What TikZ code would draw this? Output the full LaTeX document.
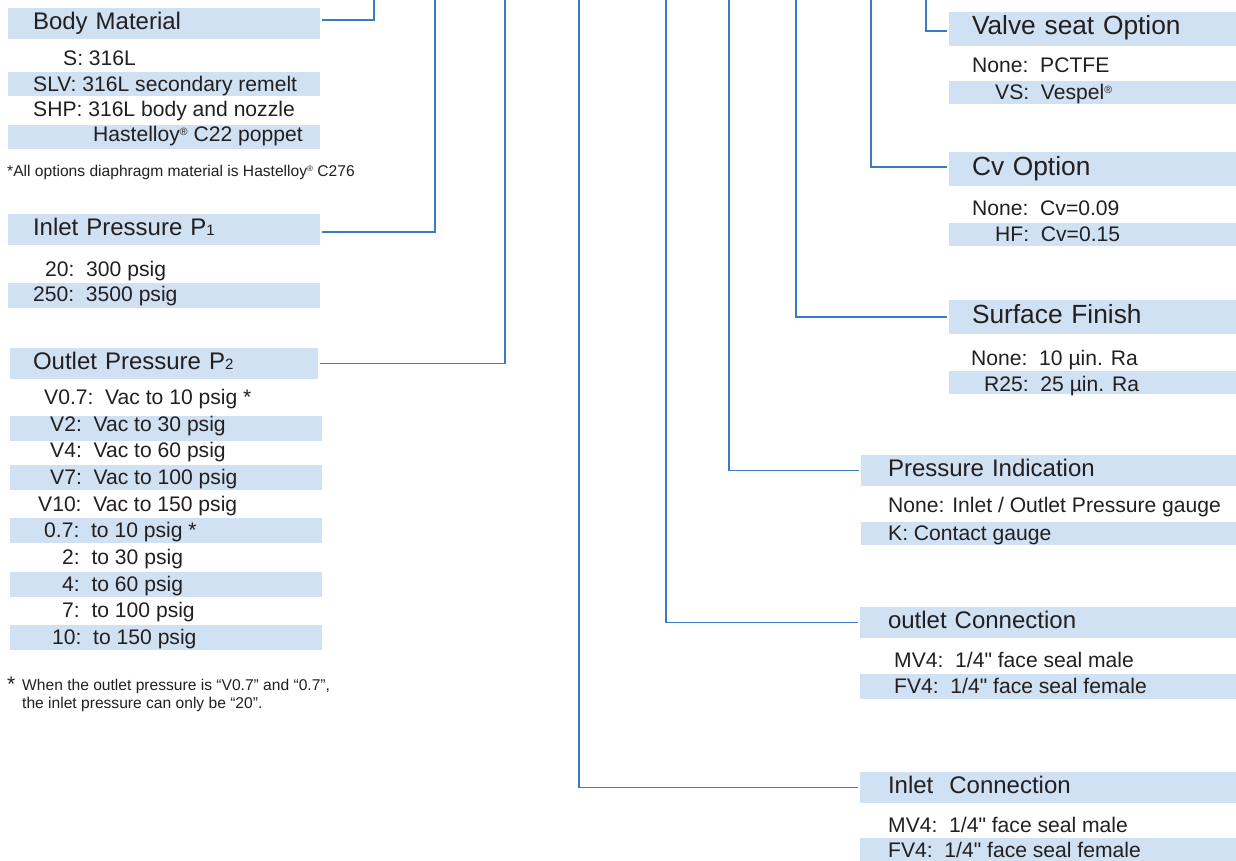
\documentclass[tikz,border=0pt]{standalone}
\usepackage{fontspec}
\setmainfont{Liberation Sans}[Ligatures=TeXOff]
\usepackage{tikz}

\definecolor{bandblue}{HTML}{CFE1F2}
\definecolor{linkblue}{HTML}{3A7CC4}
\definecolor{ink}{HTML}{231F20}
\newcommand\headfont{\fontsize{24}{28}\selectfont}
\newcommand\bigheadfont{\fontsize{26.3}{30}\selectfont}
\newcommand\optfont{\fontsize{21.1}{25}\selectfont}
\newcommand\notefont{\fontsize{15.6}{18}\selectfont}
\newcommand\subfig[1]{{\fontsize{15}{15}\selectfont #1}}
\newcommand\regmark{\raisebox{6.5pt}{\fontsize{10.5}{10.5}\selectfont ®}}
\newcommand\smallregmark{\raisebox{5pt}{\fontsize{8}{8}\selectfont ®}}

\begin{document}
\begin{tikzpicture}[x=1pt, y=-1pt, text=ink,
		head/.style 2 args={fill=bandblue, anchor=west, align=left, inner ysep=0pt,
			minimum height=31pt, text width=#1, inner xsep=#2, outer xsep=2pt,
			text height=17pt, text depth=5.5pt, font=\headfont},
		bighead/.style 2 args={head={#1}{#2}, minimum height=34pt,
			text height=18.5pt, text depth=6.5pt, font=\bigheadfont},
		opt/.style={anchor=base west, inner sep=0pt, font=\optfont},
		note/.style={anchor=base west, inner sep=0pt, font=\notefont},
		band/.style={fill=bandblue},
		link/.style={draw=linkblue, line width=1.3pt}]
					\useasboundingbox (0,0) rectangle (1236,861);
					% option bands
					\fill[band] (8,72) rectangle (320,96);
					\fill[band] (8,125) rectangle (320,149);
					\fill[band] (8,283) rectangle (320,308);
					\foreach \y in {416,465,518,572,625}
						\fill[band] (10,\y) rectangle (322,\y+24.5);
					\fill[band] (949,81) rectangle (1236,104);
					\fill[band] (949,223) rectangle (1236,246);
					\fill[band] (949,371) rectangle (1236,394);
					\fill[band] (861,522) rectangle (1236,545);
					\fill[band] (860,674) rectangle (1236,699);
					\fill[band] (860,838) rectangle (1236,861);

					% left column
					\node (body) at (6,23.5)    [head={262pt}{25pt}] {Body Material};
					\node (s1) at (63,66)       [opt] {S: 316L};
					\node (s2) at (33,91.3)     [opt] {SLV: 316L secondary remelt};
					\node (s3) at (33,116.7)    [opt] {SHP: 316L body and nozzle};
					\node (s4) at (93,141.7)    [opt] {Hastelloy\regmark\ C22 poppet};
					\node (bnote) at (7,176.7)  [note] {*All options diaphragm material is Hastelloy\smallregmark\ C276};

					\node (inlet) at (6,229.5)  [head={262pt}{25pt}] {Inlet Pressure P\subfig{1}};
					\node (i1) at (45,276)      [opt] {20:\ \ 300 psig};
					\node (i2) at (33,301.7)    [opt] {250:\ \ 3500 psig};

					\node (outlet) at (8,363.5) [head={262pt}{23pt}] {Outlet Pressure P\subfig{2}};
					\node (o1) at (44,404)      [opt] {V0.7:\ \ Vac to 10 psig *};
					\node (o2) at (50,431)      [opt] {V2:\ \ Vac to 30 psig};
					\node (o3) at (50,457)      [opt] {V4:\ \ Vac to 60 psig};
					\node (o4) at (50,484)      [opt] {V7:\ \ Vac to 100 psig};
					\node (o5) at (38,511)      [opt] {V10:\ \ Vac to 150 psig};
					\node (o6) at (44,537)      [opt] {0.7:\ \ to 10 psig *};
					\node (o7) at (62,564)      [opt] {2:\ \ to 30 psig};
					\node (o8) at (62,591)      [opt] {4:\ \ to 60 psig};
					\node (o9) at (62,617)      [opt] {7:\ \ to 100 psig};
					\node (o10) at (52,644)     [opt] {10:\ \ to 150 psig};
					\node (star) at (7,691)     [opt] {*};
					\node (onote1) at (22,690)  [note] {When the outlet pressure is “V0.7” and “0.7”,};
					\node (onote2) at (22,708)  [note] {the inlet pressure can only be “20”.};

					% right column
					\node (valve) at (947,29)   [bighead={241pt}{23pt}] {Valve seat Option};
					\node (v1) at (972,72.7)    [opt] {None:\ \ PCTFE};
					\node (v2) at (995,100)     [opt] {VS:\ \ Vespel\regmark};

					\node (cv) at (947,169.5)   [bighead={241pt}{23pt}] {Cv Option};
					\node (c1) at (972,215)     [opt] {None:\ \ Cv=0.09};
					\node (c2) at (995,241.7)   [opt] {HF:\ \ Cv=0.15};

					\node (surf) at (947,317)   [bighead={241pt}{23pt}] {Surface Finish};
					\node (f1) at (971,365)     [opt] {None:\ \ 10 µin. Ra};
					\node (f2) at (984,391)     [opt] {R25:\ \ 25 µin. Ra};

					\node (pind) at (859,470.5) [head={321pt}{27pt}] {Pressure Indication};
					\node (p1) at (888,512)     [opt] {None: Inlet / Outlet Pressure gauge};
					\node (p2) at (888,540)     [opt] {K: Contact gauge};

					\node (outc) at (858,622.5) [head={320pt}{28pt}] {outlet Connection};
					\node (u1) at (894,667)     [opt] {MV4:\ \ 1/4" face seal male};
					\node (u2) at (894,693)     [opt] {FV4:\ \ 1/4" face seal female};

					\node (inc) at (858,787.5)  [head={320pt}{28pt}] {Inlet\ \ Connection};
					\node (n1) at (888,832)     [opt] {MV4:\ \ 1/4" face seal male};
					\node (n2) at (888,857)     [opt] {FV4:\ \ 1/4" face seal female};

					% Draw the leader lines up to the code
					\coordinate (tbody) at (374,0);
					\coordinate (tinlet) at (435,0);
					\coordinate (toutlet) at (505,0);
					\coordinate (tinc) at (579,0);
					\coordinate (toutc) at (666,0);
					\coordinate (tpind) at (729,0);
					\coordinate (tsurf) at (796,0);
					\coordinate (tcv) at (871,0);
					\coordinate (tvalve) at (926,0);
					\draw[link] ([yshift=3.5pt]body.east) -| (tbody);
					\draw[link] ([yshift=-2.5pt]inlet.east) -| (tinlet);
					\draw[link] (outlet.east) -| (toutlet);
					\draw[link] (inc.west) -| (tinc);
					\draw[link] (outc.west) -| (toutc);
					\draw[link] (pind.west) -| (tpind);
					\draw[link] (surf.west) -| (tsurf);
					\draw[link] ([yshift=2.5pt]cv.west) -| (tcv);
					\draw[link] ([yshift=-2pt]valve.west) -| (tvalve);
			\end{tikzpicture}
\end{document}
